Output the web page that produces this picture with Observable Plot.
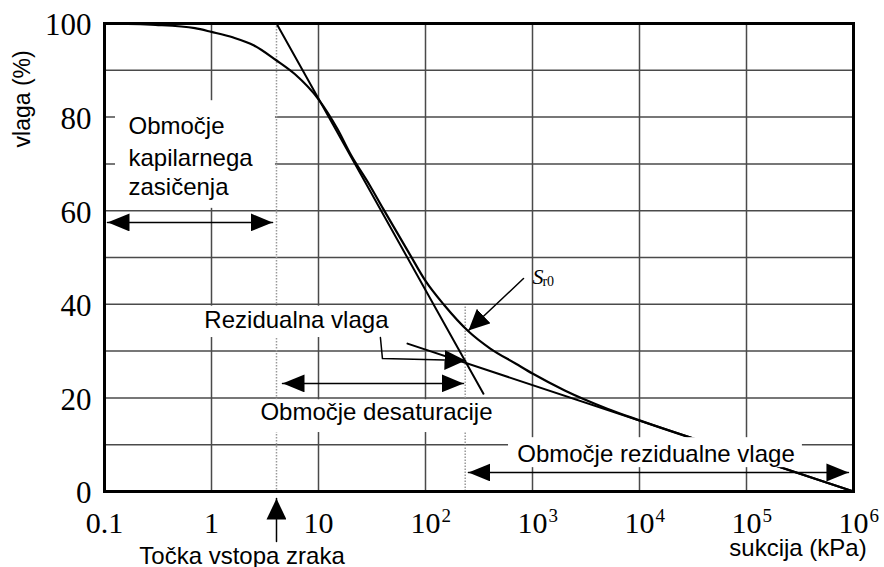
<!DOCTYPE html>
<html><head><meta charset="utf-8">
<script src="https://cdn.jsdelivr.net/npm/d3@7"></script>
<script src="https://cdn.jsdelivr.net/npm/@observablehq/plot@0.6"></script>
<style>
html,body{margin:0;padding:0;background:#fff;}
</style>
</head><body><div id="chart"></div>
<script>
// ---- data (suction in kPa, moisture in %) ----
const suction  = [0.1, 0.3, 0.7, 1, 1.6, 2.5, 4, 6, 10, 15, 20, 30, 40, 70, 100, 150, 250, 400, 700, 1000, 2000, 5000, 1e4, 1e5, 1e6];
const moisture = [100, 99.7, 99.0, 98.2, 97.0, 95.3, 92.2, 89.2, 83.8, 77.5, 72, 65.5, 60.5, 51, 45, 39.8, 34.3, 30.6, 27.3, 25.2, 21.6, 17.7, 15.2, 7.6, 0];
const desatTangentSuction = [4.05, 348];
const desatTangentMoisture = [100, 20.9];
const residualTangentSuction = [67.9, 1e6];
const residualTangentMoisture = [31.6, 0];
const airEntrySuction = 4.05;
const residualSuction = 235;

const xTicks = [0.1, 1, 10, 100, 1000, 1e4, 1e5, 1e6];
const xTickBase = ["0.1", "1", "10", "10", "10", "10", "10", "10"];
const xTickExp = ["", "", "", "2", "3", "4", "5", "6"];
const yTicks = [0, 20, 40, 60, 80, 100];
const xGrid = [1, 10, 100, 1000, 1e4, 1e5];
const yGrid = [10, 20, 30, 40, 50, 60, 70, 80, 90];

// annotation texts
const zoneLabels = ["Rezidualna vlaga", "Območje desaturacije", "Območje rezidualne vlage"];
const zoneLabelX = [6.22, 34.8, 14260];
const zoneLabelY = [36.5, 16.9, 7.9];
const capLines = ["Območje", "kapilarnega", "zasičenja"];
const capLineX = [0.1676, 0.1676, 0.1676];
const capLineY = [78.1, 71.1, 64.9];
// white boxes behind texts [x1, x2, y1, y2]
const boxX1 = [0.1267, 0.757, 2.41, 597];
const boxX2 = [3.96, 55, 502, 333000];
const boxY1 = [60.5, 32.9, 12.6, 5.1];
const boxY2 = [83.5, 39.6, 19.6, 11.5];
// double arrows
const dblArrowX1 = [0.1067, 4.61, 252];
const dblArrowX2 = [3.72, 226.6, 897000];
const dblArrowY = [57.5, 23.1, 4.06];
// single arrows (polylines)
const arrowId = ["sr0", "sr0", "rez", "rez", "rez", "air", "air"];
const arrowX = [824, 252, 37.9, 39.6, 236.6, 4.05, 4.05];
const arrowY = [45.5, 34.4, 32.9, 28.4, 28.0, -10.7, -1.5];

// ---- tables ----
const curve = suction.map((s, i) => ({s, m: moisture[i]}));
const tan1 = desatTangentSuction.map((s, i) => ({s, m: desatTangentMoisture[i]}));
const tan2 = residualTangentSuction.map((s, i) => ({s, m: residualTangentMoisture[i]}));
const xt = xTicks.map((v, i) => ({v, base: xTickBase[i], exp: xTickExp[i]}));
const boxes = boxX1.map((x1, i) => ({x1, x2: boxX2[i], y1: boxY1[i], y2: boxY2[i]}));
const zl = zoneLabels.map((t, i) => ({t, x: zoneLabelX[i], y: zoneLabelY[i]}));
const cl = capLines.map((t, i) => ({t, x: capLineX[i], y: capLineY[i]}));
const dbl = [];
dblArrowX1.forEach((x1, i) => { dbl.push({id: i, x: x1, y: dblArrowY[i]}); dbl.push({id: i, x: dblArrowX2[i], y: dblArrowY[i]}); });
const single = arrowId.map((id, i) => ({id, x: arrowX[i], y: arrowY[i]}));

function head(len, half) {
  return (color, context) => {
    const m = context.document.createElementNS("http://www.w3.org/2000/svg", "marker");
    m.setAttribute("viewBox", `${-len} ${-half} ${len} ${2 * half}`);
    m.setAttribute("markerWidth", len);
    m.setAttribute("markerHeight", 2 * half);
    m.setAttribute("refX", 0);
    m.setAttribute("refY", 0);
    m.setAttribute("markerUnits", "userSpaceOnUse");
    m.setAttribute("orient", "auto-start-reverse");
    const p = context.document.createElementNS("http://www.w3.org/2000/svg", "path");
    p.setAttribute("d", `M${-len},${-half}L0,0L${-len},${half}Z`);
    p.setAttribute("fill", "#000");
    p.setAttribute("stroke", "none");
    m.appendChild(p);
    return m;
  };
}

const sans = "'Liberation Sans', Arial, sans-serif";
const serif = "'Liberation Serif', 'Times New Roman', serif";

const plot = Plot.plot({
  width: 884, height: 567,
  marginLeft: 104, marginRight: 31, marginTop: 23, marginBottom: 76,
  x: {type: "log", domain: [0.1, 1e6], axis: null},
  y: {domain: [0, 100], axis: null},
  style: {background: "#fff", overflow: "visible"},
  marks: [
    Plot.ruleY(yGrid, {stroke: "#4a4a4a", strokeWidth: 1.5}),
    Plot.ruleX(xGrid, {stroke: "#4a4a4a", strokeWidth: 1.5}),
    Plot.ruleX([airEntrySuction], {stroke: "#999", strokeWidth: 1.5, strokeDasharray: "1.5,1.5"}),
    Plot.ruleX([residualSuction], {y1: 0, y2: 39.5, stroke: "#999", strokeWidth: 1.5, strokeDasharray: "1.5,1.5"}),
    Plot.line(tan1, {x: "s", y: "m", stroke: "#000", strokeWidth: 2}),
    Plot.line(tan2, {x: "s", y: "m", stroke: "#000", strokeWidth: 2}),
    Plot.line(curve, {x: "s", y: "m", stroke: "#000", strokeWidth: 2.2, curve: "monotone-x"}),
    Plot.rect(boxes, {x1: "x1", x2: "x2", y1: "y1", y2: "y2", fill: "#fff"}),
    Plot.line(dbl, {x: "x", y: "y", z: "id", stroke: "#000", strokeWidth: 1.5, markerStart: head(22, 9), markerEnd: head(22, 9)}),
    Plot.line(single, {x: "x", y: "y", z: "id", stroke: "#000", strokeWidth: 1.5, markerEnd: head(21, 10)}),
    Plot.text(zl, {x: "x", y: "y", text: "t", fontFamily: sans, fontSize: 24, fill: "#000"}),
    Plot.text(cl, {x: "x", y: "y", text: "t", fontFamily: sans, fontSize: 24, fill: "#000", textAnchor: "start"}),
    Plot.text(["S"], {x: 1000, y: 45.9, text: d => d, fontFamily: serif, fontStyle: "italic", fontSize: 22, textAnchor: "start", fill: "#000"}),
    Plot.text(["r0"], {x: 1239, y: 44.9, text: d => d, fontFamily: serif, fontSize: 14, textAnchor: "start", fill: "#000"}),
    Plot.frame({stroke: "#000", strokeWidth: 3}),
    // axes
    Plot.text(yTicks, {x: 0.1, y: d => d, text: d => String(d), dx: -13, dy: 2, textAnchor: "end", fontFamily: serif, fontSize: 31, fill: "#000"}),
    Plot.text(xt, {x: "v", y: 0, text: "base", dy: 32, fontFamily: serif, fontSize: 30, fill: "#000"}),
    Plot.text(xt, {x: "v", y: 0, text: "exp", dx: 16, dy: 24, textAnchor: "start", fontFamily: serif, fontSize: 19, fill: "#000"}),
    Plot.text(["vlaga (%)"], {x: 0.1, y: 83.9, text: d => d, dx: -82, rotate: -90, fontFamily: sans, fontSize: 23, fill: "#000"}),
    Plot.text(["sukcija (kPa)"], {x: 302700, y: -12.1, text: d => d, fontFamily: sans, fontSize: 24, fill: "#000"}),
    Plot.text(["Točka vstopa zraka"], {x: 1.93, y: -13.9, text: d => d, fontFamily: sans, fontSize: 24, fill: "#000"})
  ]
});
document.getElementById("chart").appendChild(plot);
</script>
</body></html>
